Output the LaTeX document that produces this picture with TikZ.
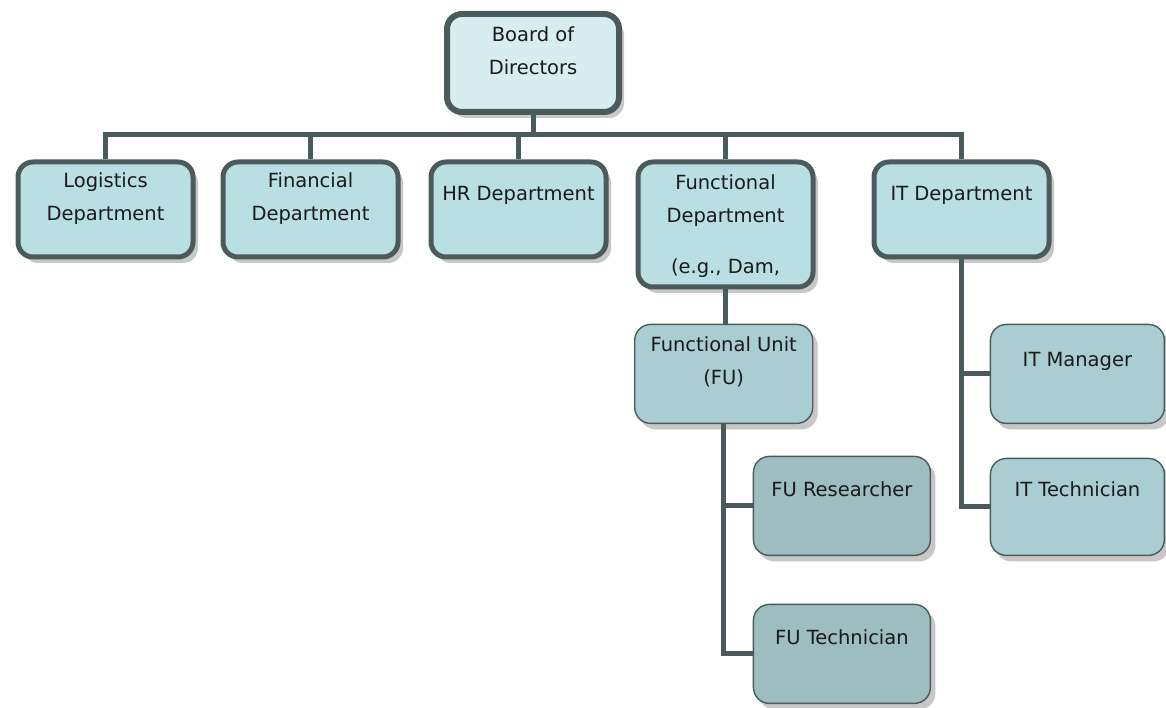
\documentclass[tikz,border=0pt]{standalone}
\usepackage{fontspec}
\setmainfont{DejaVu Sans}
\usetikzlibrary{shadows}

\definecolor{edge}{HTML}{4B5B5C}
\definecolor{topfill}{HTML}{D8EDF0}
\definecolor{deptfill}{HTML}{B9DFE3}
\definecolor{unitfill}{HTML}{AACDD1}
\definecolor{stafffill}{HTML}{9DBDC0}
\definecolor{ink}{HTML}{1A1A1A}

\tikzset{
  box/.style={draw=edge, anchor=north west, inner sep=0pt,
    drop shadow={shadow xshift=5pt, shadow yshift=-6pt, fill=black, opacity=0.22}},
  topbox/.style={box, fill=topfill, line width=6pt, rounded corners=15pt,
    minimum width=172pt, minimum height=98pt},
  deptbox/.style={box, fill=deptfill, line width=5pt, rounded corners=15pt,
    minimum width=175pt, minimum height=95pt},
  unitbox/.style={box, fill=unitfill, line width=1.4pt, rounded corners=16pt,
    minimum height=99pt},
  staffbox/.style={unitbox, fill=stafffill},
  lbl/.style={font=\fontsize{19.5}{33}\selectfont, text=ink, align=center,
    anchor=north, inner sep=0pt},
  wire/.style={draw=edge, line width=5pt, line join=miter}
}

\begin{document}
\begin{tikzpicture}[x=1pt, y=-1pt]
\useasboundingbox (0,0) rectangle (1166,708);

% boxes
\node[topbox] (board) at (444,11) {};
\node[deptbox] (log) at (15.5,159.5) {};
\node[deptbox] (fin) at (220.5,159.5) {};
\node[deptbox] (hr)  at (428.5,159.5) {};
\node[deptbox, minimum height=125pt] (fd) at (635.5,159.5) {};
\node[deptbox] (it)  at (871.5,159.5) {};

\node[unitbox, minimum width=178pt] (fu) at (634,323.7) {};
\node[staffbox, minimum width=177pt] (fur) at (752.7,455.7) {};
\node[staffbox, minimum width=177pt] (fut) at (752.7,603.7) {};
\node[unitbox, minimum width=174pt] (itm) at (989.7,323.7) {};
\node[unitbox, minimum width=174pt, minimum height=97pt] (itt) at (989.7,457.7) {};

% connectors
\coordinate (bus) at (0,135);
\draw[wire] (board.south) -- (board.south |- bus);
\draw[wire] (log.north) |- (bus -| it.north) -- (it.north);
\draw[wire] (fin.north) -- (fin.north |- bus);
\draw[wire] (hr.north) -- (hr.north |- bus);
\draw[wire] (fd.north) -- (fd.north |- bus);

\draw[wire] (fd.south) -- (fd.south |- fu.north);
\draw[wire] (fu.south) |- (fut.west);
\draw[wire] (fu.south |- fur.west) -- (fur.west);

\draw[wire] (it.south) |- (itt.west);
\draw[wire] (it.south |- itm.west) -- (itm.west);

% labels
\node[lbl] (boardt) at (board.north |- 0,26) {Board of\\Directors};
\node[lbl] (logt) at (log.north |- 0,172.5) {Logistics\\Department};
\node[lbl] (fint) at (fin.north |- 0,172.5) {Financial\\Department};
\node[lbl] (hrt) at (hr.north |- 0,186) {HR Department};
\node[lbl] (fdt) at (fd.north |- 0,174) {Functional\\Department};
\node[lbl] (fdx) at (fd.north |- 0,259) {(e.g., Dam,};
\node[lbl] (itt0) at (it.north |- 0,186) {IT Department};
\node[lbl] (fut0) at (fu.north |- 0,336) {Functional Unit\\(FU)};
\node[lbl] (furt) at (fur.north |- 0,481) {FU Researcher};
\node[lbl] (futt) at (fut.north |- 0,629) {FU Technician};
\node[lbl] (itmt) at (itm.north |- 0,352) {IT Manager};
\node[lbl] (ittt) at (itt.north |- 0,481) {IT Technician};
\end{tikzpicture}
\end{document}
